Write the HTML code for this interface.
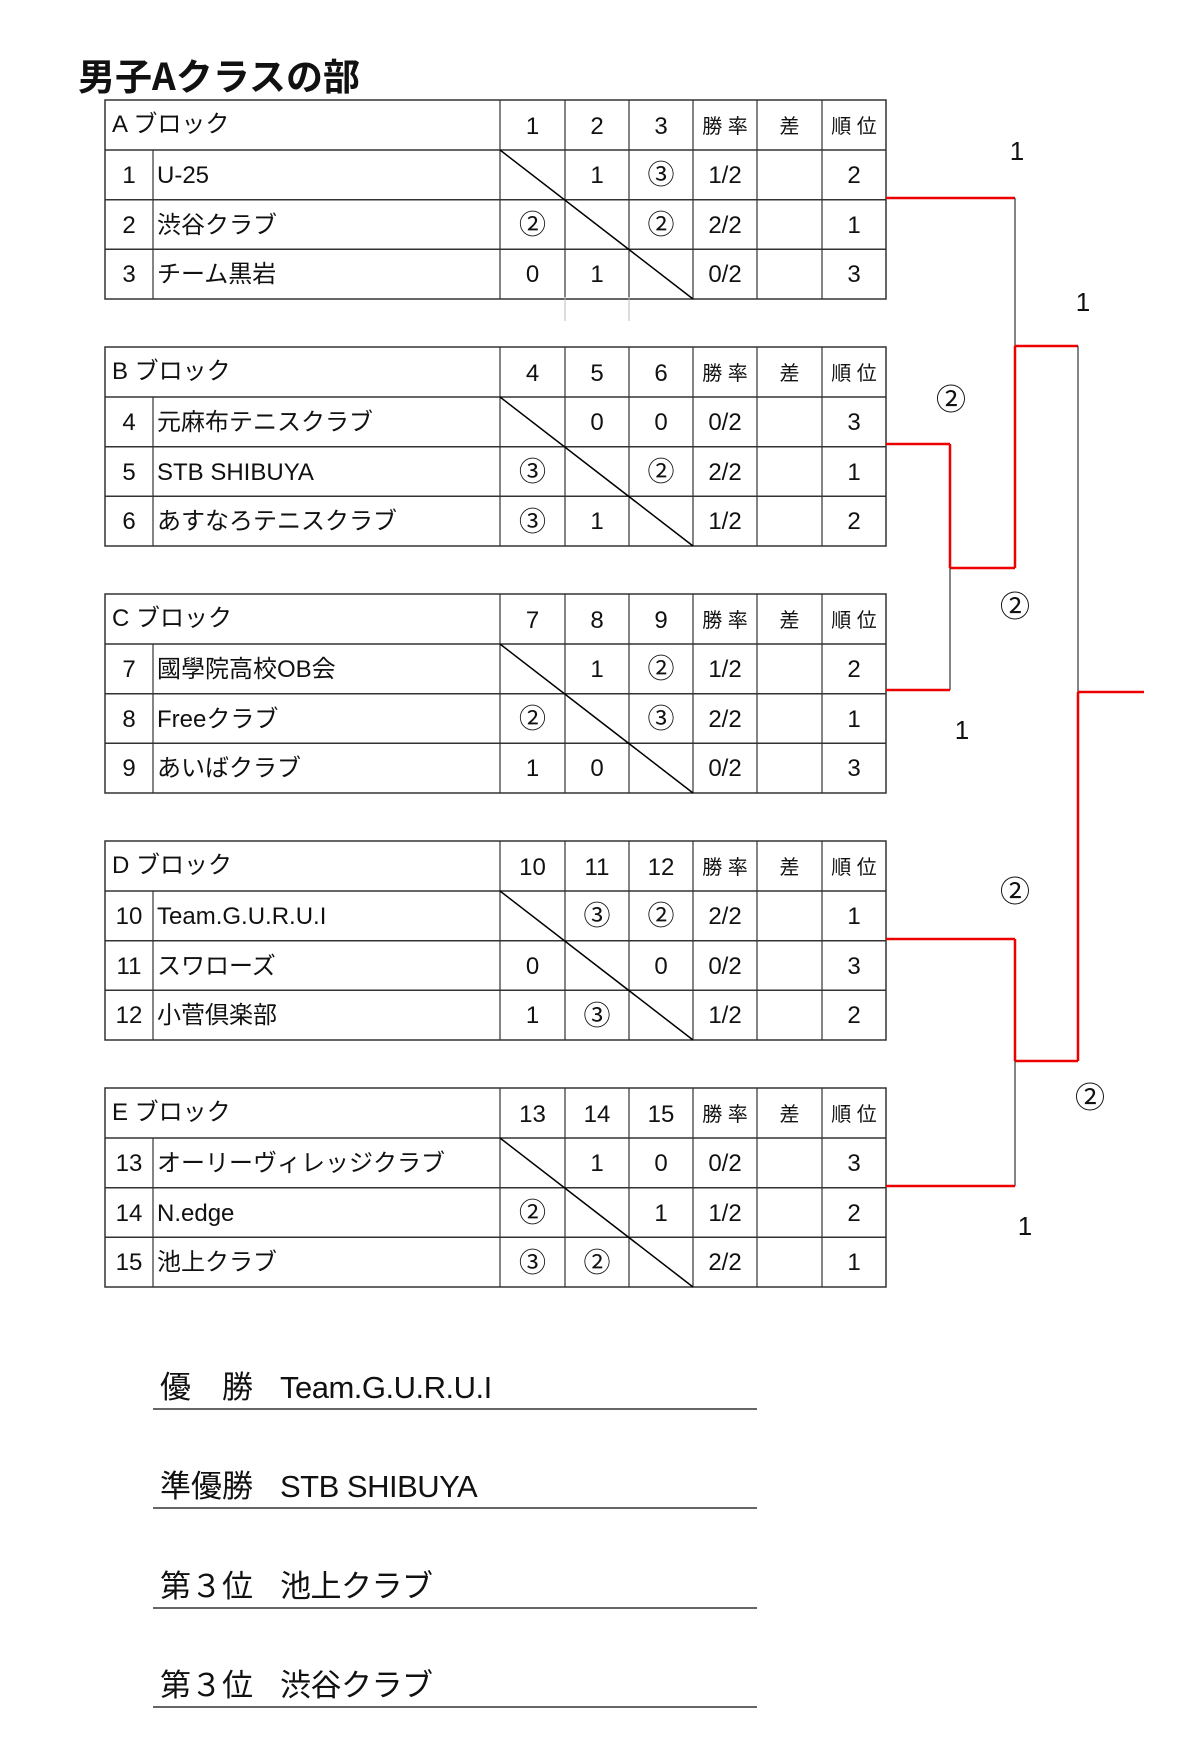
<!DOCTYPE html>
<html><head><meta charset="utf-8"><style>
body{margin:0;width:1200px;height:1756px;background:#fff;position:relative;overflow:hidden;font-family:"Liberation Sans","Noto Sans CJK JP",sans-serif;color:#111}
.t{position:absolute;white-space:nowrap;line-height:1}
.c{position:absolute;text-align:center;line-height:1;white-space:nowrap}
svg{position:absolute;left:0;top:0}
</style></head><body>
<div class="t" style="left:78px;top:56px;font-size:37px;font-weight:bold;font-family:'Noto Sans CJK JP',sans-serif;letter-spacing:0px">男子Aクラスの部</div>
<div id="root"></div>
<svg width="1200" height="1756" id="sv"></svg>
<script>
var X=[105,153,500,565,629,693,757,822,886];
var blocks=[
["A ブロック",["1","2","3"],[["1","U-25","","1","③","1/2","2"],["2","渋谷クラブ","②","","②","2/2","1"],["3","チーム黒岩","0","1","","0/2","3"]]],
["B ブロック",["4","5","6"],[["4","元麻布テニスクラブ","","0","0","0/2","3"],["5","STB SHIBUYA","③","","②","2/2","1"],["6","あすなろテニスクラブ","③","1","","1/2","2"]]],
["C ブロック",["7","8","9"],[["7","國學院高校OB会","","1","②","1/2","2"],["8","Freeクラブ","②","","③","2/2","1"],["9","あいばクラブ","1","0","","0/2","3"]]],
["D ブロック",["10","11","12"],[["10","Team.G.U.R.U.I","","③","②","2/2","1"],["11","スワローズ","0","","0","0/2","3"],["12","小菅倶楽部","1","③","","1/2","2"]]],
["E ブロック",["13","14","15"],[["13","オーリーヴィレッジクラブ","","1","0","0/2","3"],["14","N.edge","②","","1","1/2","2"],["15","池上クラブ","③","②","","2/2","1"]]]];
var h="",s="";
function ln(x1,y1,x2,y2,c,w){s+='<line x1="'+x1+'" y1="'+y1+'" x2="'+x2+'" y2="'+y2+'" stroke="'+c+'" stroke-width="'+w+'"/>';}
function cell(x1,x2,y,txt,fs){h+='<div class="c" style="left:'+x1+'px;width:'+(x2-x1)+'px;top:'+(y-fs/2)+'px;font-size:'+fs+'px">'+txt+'</div>';}
function cf(t){return /[①-⑳]/.test(t)?27:24;}
blocks.forEach(function(b,i){
 var T=100+i*247, R=[T,T+50,T+99.7,T+149.3,T+199];
 s+='<rect x="105" y="'+T+'" width="781" height="199" fill="none" stroke="#333" stroke-width="1.5"/>';
 for(var r=1;r<4;r++)ln(105,R[r],886,R[r],"#333",1.5);
 ln(153,R[1],153,R[4],"#333",1.2);
 for(var k=2;k<8;k++)ln(X[k],T,X[k],R[4],"#333",1.2);
 ln(500,R[1],693,R[4],"#000",1.5);
 h+='<div class="t" style="left:112px;top:'+(T+13)+'px;font-size:24px">'+b[0]+'</div>';
 for(var k=0;k<3;k++)cell(X[2+k],X[3+k],T+27,b[1][k],24);
 cell(693,757,T+27,"勝 率",20);cell(757,822,T+27,"差",20);cell(822,886,T+27,"順 位",20);
 b[2].forEach(function(row,r){var cy=(R[r+1]+R[r+2])/2+1;
  cell(105,153,cy,row[0],24);
  h+='<div class="t" style="left:157px;top:'+(cy-12)+'px;font-size:24px">'+row[1]+'</div>';
  for(var k=0;k<3;k++)cell(X[2+k],X[3+k],cy,row[2+k],cf(row[2+k]));
  cell(693,757,cy,row[5],24);cell(822,886,cy,row[6],24);
 });
});
ln(565,297,565,321,"#bbb",1);ln(629,297,629,321,"#bbb",1);
var K="#333",Rd="#e00";
ln(886,198,1015,198,Rd,2.5);ln(1015,198,1015,346,K,1.2);
ln(1015,346,1078,346,Rd,2.5);ln(1015,346,1015,568,Rd,2.5);ln(950,568,1015,568,Rd,2.5);
ln(886,444,950,444,Rd,2.5);ln(950,444,950,568,Rd,2.5);ln(950,568,950,690,K,1.2);ln(886,690,950,690,Rd,2.5);
ln(1078,346,1078,692,K,1.2);ln(1078,692,1144,692,Rd,2.5);ln(1078,692,1078,1061,Rd,2.5);ln(1015,1061,1078,1061,Rd,2.5);
ln(886,939,1015,939,Rd,2.5);ln(1015,939,1015,1061,Rd,2.5);ln(1015,1061,1015,1186,K,1.2);ln(886,1186,1015,1186,Rd,2.5);
[[1017,151,"1"],[1083,302,"1"],[951,401,"②"],[1015,608,"②"],[962,730,"1"],[1015,893,"②"],[1090,1099,"②"],[1025,1226,"1"]].forEach(function(a){cell(a[0]-20,a[0]+20,a[1],a[2],a[2]=="1"?26:30);});
[[1409,"優　勝","Team.G.U.R.U.I"],[1508,"準優勝","STB SHIBUYA"],[1608,"第３位","池上クラブ"],[1707,"第３位","渋谷クラブ"]].forEach(function(a){
 ln(153,a[0],757,a[0],"#333",1.5);
 h+='<div class="t" style="left:160px;top:'+(a[0]-37)+'px;font-size:31px">'+a[1]+'</div>';
 h+='<div class="t" style="left:280px;top:'+(a[0]-37)+'px;font-size:31px;letter-spacing:-0.5px">'+a[2]+'</div>';
});
document.getElementById("root").innerHTML=h;document.getElementById("sv").innerHTML=s;
</script>
</body></html>
